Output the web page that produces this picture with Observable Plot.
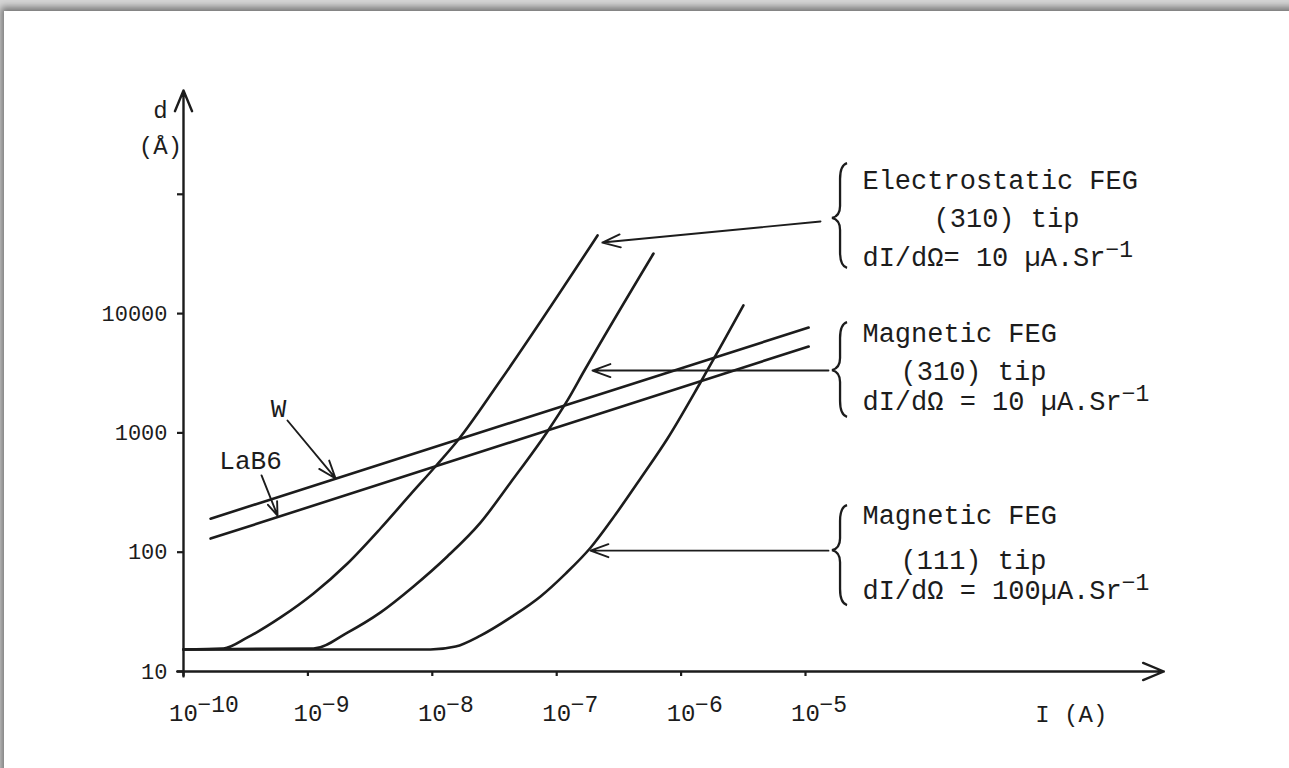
<!DOCTYPE html>
<html><head><meta charset="utf-8">
<script src="https://cdn.jsdelivr.net/npm/d3@7"></script>
<script src="https://cdn.jsdelivr.net/npm/@observablehq/plot@0.6"></script>
<style>
html,body{margin:0;padding:0;width:1289px;height:768px;overflow:hidden;background:#d6d6d6;}
#frame{position:absolute;left:4px;top:11px;width:1300px;height:780px;background:#fff;box-shadow:-2px -3px 7px 1px rgba(0,0,0,0.45);}
#chart{position:absolute;left:0;top:0;}
</style></head>
<body><div id="frame"></div><div id="chart"></div>
<script>
// ---- axes ----
const xTicks = [1e-10, 1e-9, 1e-8, 1e-7, 1e-6, 1e-5];
const xTickExp = ["−10", "−9", "−8", "−7", "−6", "−5"];
const yTicks = [10, 100, 1000, 10000, 100000];
const yTickLabels = ["10", "100", "1000", "10000", ""];

// ---- curves: probe size d (Å) vs current I (A) ----
const wI = [1.65e-10, 1.06e-5];
const wD = [191, 7640];
const lab6I = [1.65e-10, 1.06e-5];
const lab6D = [130, 5300];
const esI = [1e-10, 2.10e-10, 3.27e-10, 6.03e-10, 1.11e-9, 2.08e-9, 3.83e-9, 6.68e-9, 1.06e-8, 1.60e-8, 3.53e-8, 2.13e-7];
const esD = [15.3, 15.6, 19.3, 28.4, 45.1, 80.4, 158, 305, 523, 863, 2750, 45200];
const m310I = [1e-10, 1.11e-9, 2.08e-9, 3.84e-9, 7.06e-9, 1.32e-8, 2.44e-8, 4.26e-8, 8.43e-8, 1.22e-7, 1.67e-7, 6.00e-7];
const m310D = [15.3, 15.6, 21.2, 31.3, 51.6, 92.0, 177, 384, 1028, 1871, 3334, 31900];
const m111I = [1e-10, 9.67e-9, 1.54e-8, 2.44e-8, 4.49e-8, 7.41e-8, 1.18e-7, 1.87e-7, 2.97e-7, 4.72e-7, 7.78e-7, 1.43e-6, 3.17e-6];
const m111D = [15.3, 15.3, 16.2, 20.0, 29.4, 42.6, 66.2, 109, 207, 415, 898, 2646, 11700];

// ---- annotations (data units) ----
const annTexts = ["Electrostatic FEG", "(310) tip", "dI/dΩ= 10 µA.Sr",
                  "Magnetic FEG", "(310) tip", "dI/dΩ = 10 µA.Sr",
                  "Magnetic FEG", "(111) tip", "dI/dΩ = 100µA.Sr"];
const annI = [2.87e-5, 1.07e-4, 2.87e-5, 2.87e-5, 5.81e-5, 2.87e-5, 2.87e-5, 5.81e-5, 2.87e-5];
const annD = [130600, 62700, 29500, 6810, 3275, 1833, 203, 85.1, 47.8];
const supIdx = [2, 5, 8];
const supText = "−1";

const braceI = [1.65e-5, 1.65e-5, 1.65e-5];
const braceTop = [181100, 8410, 246];
const braceMid = [62700, 3330, 103];
const braceBot = [23900, 1350, 35.7];

const arrowI1 = [1.32e-5, 1.53e-5, 1.53e-5, 6.85e-10, 4.24e-10];
const arrowD1 = [59200, 3330, 103, 1270, 440];
const arrowI2 = [2.33e-7, 1.94e-7, 1.87e-7, 1.67e-9, 5.70e-10];
const arrowD2 = [39400, 3330, 103, 415, 203];

const seriesLabels = ["W", "LaB6"];
const seriesLabelI = [5.81e-10, 3.46e-10];
const seriesLabelD = [1600, 587];

const axisArrowI1 = [8.9e-11, 1e-10];
const axisArrowD1 = [10, 9.1];
const axisArrowI2 = [7.59e-3, 1e-10];
const axisArrowD2 = [10, 741000];
const axisTitles = ["d", "(Å)", "I (A)"];
const axisTitleI = [6.53e-11, 6.53e-11, 1.37e-3];
const axisTitleD = [503500, 251800, 4.37];

// ---- build tables ----
const curves = [];
[["W", wI, wD], ["LaB6", lab6I, lab6D], ["ES310", esI, esD], ["M310", m310I, m310D], ["M111", m111I, m111D]]
  .forEach(([s, I, D]) => I.forEach((v, i) => curves.push({series: s, I: v, d: D[i]})));
const ann = annTexts.map((t, i) => ({text: t, I: annI[i], d: annD[i]}));
const sups = supIdx.map(i => ({text: supText, I: annI[i], d: annD[i], n: annTexts[i].length}));
const braces = braceI.map((v, i) => ({I: v, top: braceTop[i], mid: braceMid[i], bot: braceBot[i]}));
const arrows = arrowI1.map((v, i) => ({I1: v, d1: arrowD1[i], I2: arrowI2[i], d2: arrowD2[i]}));
const labels = seriesLabels.map((t, i) => ({text: t, I: seriesLabelI[i], d: seriesLabelD[i]}));
const axisArrows = axisArrowI1.map((v, i) => ({I1: v, d1: axisArrowD1[i], I2: axisArrowI2[i], d2: axisArrowD2[i]}));
const titles = axisTitles.map((t, i) => ({text: t, I: axisTitleI[i], d: axisTitleD[i]}));
const xLab = xTicks.map((v, i) => ({I: v, exp: xTickExp[i]}));
const yLabMap = new Map(yTicks.map((v, i) => [v, yTickLabels[i]]));

const FONT = "'Liberation Mono', 'DejaVu Sans Mono', monospace";
const ink = "#1c1c1c";
const annSize = 27;

function braceMark(index, scales) {
  const g = d3.create("svg:g");
  for (const b of braces) {
    const tx = scales.x(b.I), ty = scales.y(b.top), my = scales.y(b.mid), by = scales.y(b.bot);
    const bx = tx + 8, hx = tx + 15;
    const p = `M${hx},${ty} Q${bx},${ty + 2} ${bx},${ty + 16} L${bx},${my - 12} Q${bx},${my - 2} ${tx},${my}` +
              ` Q${bx},${my + 2} ${bx},${my + 12} L${bx},${by - 16} Q${bx},${by - 2} ${hx},${by}`;
    g.append("path").attr("d", p).attr("fill", "none").attr("stroke", ink).attr("stroke-width", 2.3);
  }
  return g.node();
}

const chart = Plot.plot({
  width: 1289, height: 768,
  marginLeft: 183, marginRight: 1289 - 1178.2, marginTop: 74.5, marginBottom: 97,
  x: {type: "log", domain: [1e-10, 1e-2]},
  y: {type: "log", domain: [10, 1e6]},
  style: {background: "transparent", fontFamily: FONT, color: ink},
  marks: [
    Plot.axisX({ticks: xTicks, tickSize: 5, tickFormat: () => "", label: null, strokeWidth: 2.2}),
    Plot.axisY({ticks: yTicks, tickSize: 6, tickPadding: 10, tickFormat: d => yLabMap.get(d), label: null,
                fontSize: 22, fontFamily: FONT, strokeWidth: 2.2}),
    Plot.text(xLab, {x: "I", y: () => 10, text: () => "10", dy: 42, fontSize: 24, fontFamily: FONT, textAnchor: "middle"}),
    Plot.text(xLab, {x: "I", y: () => 10, text: "exp", dx: 14, dy: 33, fontSize: 23, fontFamily: FONT, textAnchor: "start"}),
    Plot.arrow(axisArrows, {x1: "I1", y1: "d1", x2: "I2", y2: "d2", stroke: ink, strokeWidth: 2.4, headLength: 14, headAngle: 45}),
    Plot.text(titles, {x: "I", y: "d", text: "text", fontSize: 24, fontFamily: FONT, textAnchor: "middle"}),
    Plot.line(curves, {x: "I", y: "d", z: "series", curve: "monotone-x", stroke: ink, strokeWidth: 2.6}),
    Plot.arrow(arrows, {x1: "I1", y1: "d1", x2: "I2", y2: "d2", stroke: ink, strokeWidth: 1.9, headLength: 15, headAngle: 40}),
    Plot.text(labels, {x: "I", y: "d", text: "text", fontSize: 26, fontFamily: FONT, textAnchor: "middle"}),
    Plot.text(ann, {x: "I", y: "d", text: "text", fontSize: annSize, fontFamily: FONT, textAnchor: "start"}),
    ...sups.map(s => Plot.text([s], {x: "I", y: "d", text: "text", fontSize: 23, fontFamily: FONT, textAnchor: "start",
                     dx: s.n * annSize * 0.6, dy: -8})),
    braceMark
  ]
});
document.getElementById("chart").appendChild(chart);
</script></body></html>
